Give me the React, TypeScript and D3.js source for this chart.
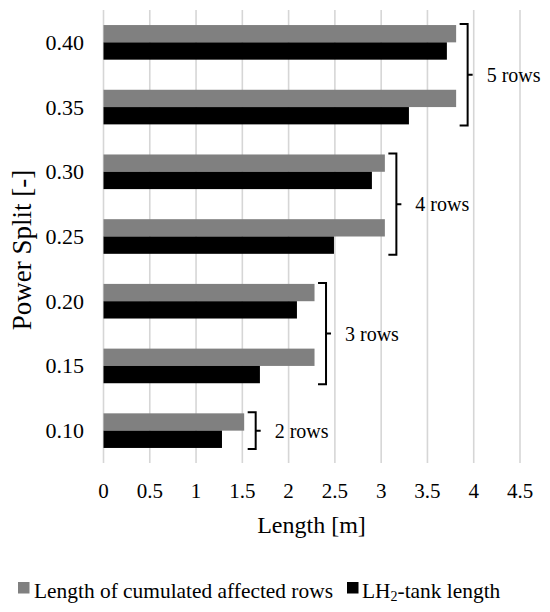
import React from "react";
import * as d3 from "d3";

const categories = ["0.10", "0.15", "0.20", "0.25", "0.30", "0.35", "0.40"];
const cumulatedRows = [1.52, 2.28, 2.28, 3.04, 3.04, 3.81, 3.81];
const tankLength = [1.28, 1.69, 2.09, 2.49, 2.9, 3.3, 3.71];
const xTicks = [0, 0.5, 1, 1.5, 2, 2.5, 3, 3.5, 4, 4.5];
const groupLabels = ["2 rows", "3 rows", "4 rows", "5 rows"];
const groupCats = [["0.10"], ["0.15", "0.20"], ["0.25", "0.30"], ["0.35", "0.40"]];
const seriesNames = ["Length of cumulated affected rows", "LH2-tank length"];
const seriesColors = ["#808080", "#000000"];

const W = 550;
const H = 612;
const FONT = "Liberation Serif, Times New Roman, serif";
const tf = { fontFamily: FONT };

export default function App() {
  const x = d3.scaleLinear().domain([0, 4.5]).range([103.5, 520]);
  const y = d3
    .scaleBand<string>()
    .domain([...categories].reverse())
    .range([10, 463])
    .paddingInner(0.465)
    .paddingOuter(0.2325);
  const inner = d3.scaleBand<number>().domain([0, 1]).range([0, y.bandwidth()]);
  const series = [cumulatedRows, tankLength];

  return (
    <svg
      width={W}
      height={H}
      style={{ position: "absolute", left: 0, top: 0, background: "#fff", fontFamily: FONT }}
    >
      <rect width={W} height={H} fill="#fff" />
      {xTicks.map((t) => (
        <line key={t} x1={x(t)} x2={x(t)} y1={10} y2={463} stroke="#d6d6d6" strokeWidth={1.6} />
      ))}
      {categories.map((c, i) =>
        series.map((s, si) => (
          <rect
            key={c + si}
            x={x(0)}
            y={(y(c) as number) + (inner(si) as number)}
            width={x(s[i]) - x(0)}
            height={inner.bandwidth()}
            fill={seriesColors[si]}
          />
        ))
      )}
      {xTicks.map((t) => (
        <text key={t} style={tf} x={x(t)} y={498} fontSize={21} textAnchor="middle">
          {String(t)}
        </text>
      ))}
      {categories.map((c) => (
        <text
          key={c}
          style={tf}
          x={84}
          y={(y(c) as number) + y.bandwidth() / 2 + 7.5}
          fontSize={22}
          textAnchor="end"
        >
          {c}
        </text>
      ))}
      <text style={tf} x={311.5} y={533} fontSize={24} textAnchor="middle">
        Length [m]
      </text>
      <text
        style={tf}
        transform={`translate(31,250) rotate(-90)`}
        fontSize={27}
        textAnchor="middle"
      >
        Power Split [-]
      </text>
      {groupCats.map((cats, gi) => {
        const idx = cats.map((c) => categories.indexOf(c));
        const val = d3.max(idx, (i) => cumulatedRows[i]) as number;
        const bx = x(val) + 3.5;
        const topCat = cats[cats.length - 1];
        const botCat = cats[0];
        const top = (y(topCat) as number) - 1;
        const bot = (y(botCat) as number) + y.bandwidth() + 1;
        const mid = (top + bot) / 2;
        return (
          <g key={gi}>
            <path
              d={`M${bx},${top}H${bx + 8}V${bot}H${bx}M${bx + 8},${mid}H${bx + 13}`}
              fill="none"
              stroke="#000"
              strokeWidth={2}
            />
            <text style={tf} x={bx + 27} y={mid + 7} fontSize={20}>
              {groupLabels[gi]}
            </text>
          </g>
        );
      })}
      <g>
        <rect x={18} y={582} width={11.5} height={11.5} fill={seriesColors[0]} />
        <text style={tf} x={34} y={598} fontSize={21.4}>
          {seriesNames[0]}
        </text>
        <rect x={347} y={582} width={11.5} height={11.5} fill={seriesColors[1]} />
        <text style={tf} x={362} y={598} fontSize={21.4}>
          LH
          <tspan fontSize={14} dy={3}>
            2
          </tspan>
          <tspan dy={-3}>-tank length</tspan>
        </text>
      </g>
    </svg>
  );
}
